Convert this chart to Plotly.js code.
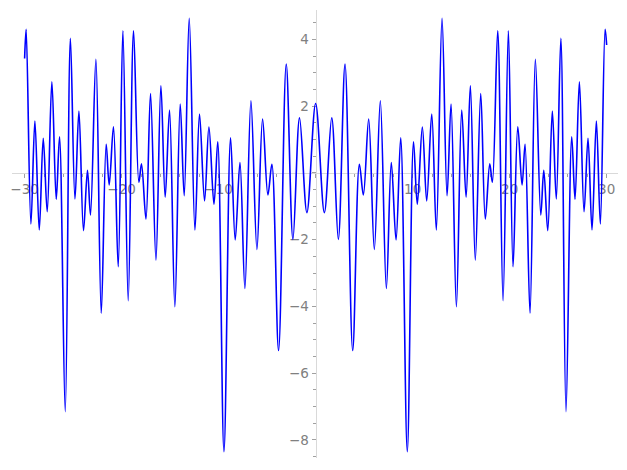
<!DOCTYPE html>
<html>
<head>
<meta charset="utf-8">
<script src="https://cdn.plot.ly/plotly-3.0.1.min.js"></script>
<style>html,body{margin:0;padding:0;background:#fff;}#chart{width:627px;height:470px;}</style>
</head>
<body>
<div id="chart"></div>
<script>
// Extrema of the curve (x, y)
var xLeft = [-30, -29.84, -29.35, -28.94, -28.49, -28.08, -27.67, -27.19, -26.74, -26.40, -25.81, -25.28, -24.81, -24.40, -23.93, -23.52, -23.21, -22.65, -22.10, -21.59, -21.28, -20.84, -20.35, -19.87, -19.32, -18.77, -18.22, -17.95, -17.49, -17.02, -16.46, -15.95, -15.51, -15.06, -14.51, -13.96, -13.55, -13.03, -12.44, -11.97, -11.45, -11.00, -10.48, -10.09, -9.45, -8.77, -8.29, -7.80, -7.29, -6.67, -6.05, -5.47, -4.92, -4.51, -3.82, -3.03, -2.34, -1.66, -0.90];
var yLeft = [3.43, 4.30, -1.53, 1.55, -1.71, 1.04, -1.16, 2.73, -0.79, 1.08, -7.15, 4.03, -0.78, 1.85, -1.73, 0.08, -1.26, 3.40, -4.20, 0.86, -0.36, 1.38, -2.81, 4.26, -3.83, 4.26, -0.28, 0.27, -1.38, 2.38, -2.61, 2.61, -0.73, 1.88, -4.01, 2.06, -0.68, 4.63, -1.71, 1.76, -0.84, 1.37, -0.94, 0.93, -8.35, 1.05, -2.01, 0.31, -3.46, 2.16, -2.29, 1.61, -0.66, 0.26, -5.32, 3.26, -1.99, 1.65, -1.19];
var xRight = [0, 0.90, 1.66, 2.34, 3.03, 3.82, 4.51, 4.92, 5.47, 6.05, 6.67, 7.29, 7.80, 8.29, 8.77, 9.45, 10.09, 10.48, 11.00, 11.45, 11.97, 12.44, 13.03, 13.55, 13.96, 14.51, 15.06, 15.51, 15.95, 16.46, 17.02, 17.49, 17.95, 18.22, 18.77, 19.32, 19.87, 20.35, 20.84, 21.28, 21.59, 22.10, 22.65, 23.21, 23.52, 23.93, 24.40, 24.81, 25.28, 25.81, 26.40, 26.74, 27.19, 27.67, 28.08, 28.49, 28.94, 29.35, 29.84, 30];
var yRight = [2.08, -1.19, 1.65, -1.99, 3.26, -5.32, 0.26, -0.66, 1.61, -2.29, 2.16, -3.46, 0.31, -2.01, 1.05, -8.35, 0.93, -0.94, 1.37, -0.84, 1.76, -1.71, 4.63, -0.68, 2.06, -4.01, 1.88, -0.73, 2.61, -2.61, 2.38, -1.38, 0.27, -0.28, 4.26, -3.83, 4.26, -2.81, 1.38, -0.36, 0.86, -4.20, 3.40, -1.26, 0.08, -1.73, 1.85, -0.78, 4.03, -7.15, 1.08, -0.79, 2.73, -1.16, 1.04, -1.71, 1.55, -1.53, 4.30, 3.83];

var xs = xLeft.concat(xRight);
var ys = yLeft.concat(yRight);

var xRange = [-31.3, 31.17];
var yRange = [-8.54, 4.88];

var tickFont = {family: 'DejaVu Sans, sans-serif', size: 13.5, color: '#808080'};

var trace = {
  x: xs, y: ys, type: 'scatter', mode: 'lines',
  line: {color: '#0000ff', width: 1.6, shape: 'spline', smoothing: 1},
  hoverinfo: 'skip'
};

var layout = {
  width: 627, height: 470,
  margin: {l: 12, r: 9, t: 10, b: 12},
  paper_bgcolor: '#ffffff', plot_bgcolor: '#ffffff',
  showlegend: false,
  xaxis: {
    range: xRange, anchor: 'free',
    position: (0 - yRange[0]) / (yRange[1] - yRange[0]),
    showgrid: false, zeroline: false,
    showline: true, linecolor: '#d9d9d9', linewidth: 1.2,
    tickmode: 'linear', tick0: 0, dtick: 10,
    ticks: 'outside', ticklen: 4, tickcolor: '#a0a0a0', tickwidth: 1,
    labelalias: {'0': ' '},
    minor: {dtick: 2, tick0: 0, ticks: 'outside', ticklen: 3, tickcolor: '#a0a0a0', showgrid: false},
    tickfont: tickFont, layer: 'below traces', fixedrange: true
  },
  yaxis: {
    range: yRange, anchor: 'free',
    position: (0 - xRange[0]) / (xRange[1] - xRange[0]),
    showgrid: false, zeroline: false,
    showline: true, linecolor: '#d9d9d9', linewidth: 1.2,
    tickmode: 'linear', tick0: 0, dtick: 2,
    ticks: 'outside', ticklen: 4, tickcolor: '#a0a0a0', tickwidth: 1,
    labelalias: {'0': ' '},
    minor: {dtick: 0.5, tick0: 0, ticks: 'outside', ticklen: 2.5, tickcolor: '#a0a0a0', showgrid: false},
    tickfont: tickFont, layer: 'below traces', fixedrange: true
  }
};

Plotly.newPlot('chart', [trace], layout, {staticPlot: true, displayModeBar: false});
</script>
</body>
</html>
